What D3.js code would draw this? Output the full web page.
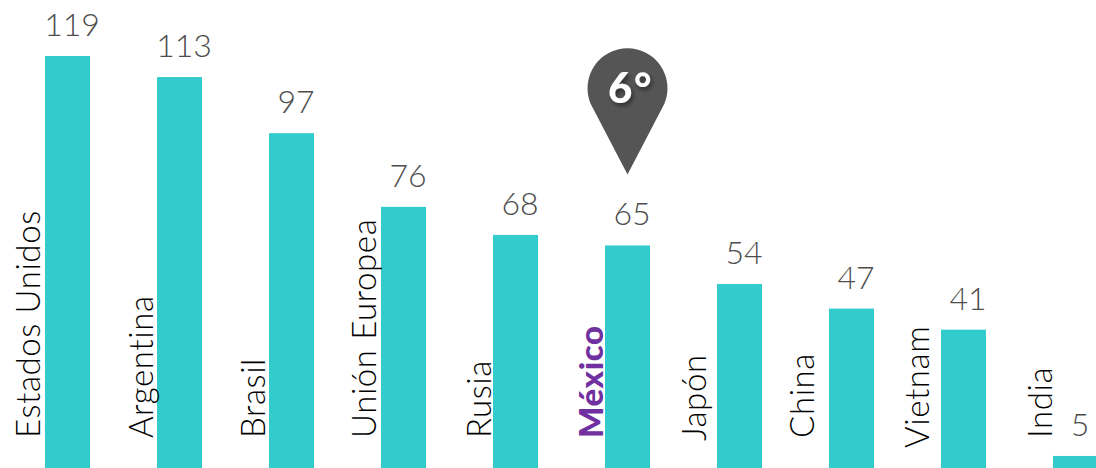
<!DOCTYPE html>
<html>
<head>
<meta charset="utf-8">
<script src="https://cdn.jsdelivr.net/npm/d3@7"></script>
<style>
  html, body { margin: 0; padding: 0; background: #fff; overflow: hidden; }
  svg { display: block; }
  text { font-family: Lato, "Open Sans", sans-serif; }
</style>
</head>
<body>
<script>
const categories = ['Estados Unidos', 'Argentina', 'Brasil', 'Unión Europea', 'Rusia', 'México', 'Japón', 'China', 'Vietnam', 'India'];
const values = [119, 113, 97, 76, 68, 65, 54, 47, 41, 5];
const highlight = 'México';
const pinLabel = '6°';

// hand placement of the rotated labels, the source has them off grid
const labelDx = [-5, -4, -4, -5, -2, -2, -11, -15, -12, -1];
const labelDy = [0, 0, 0, 0, 0, 0, 3, 0, 10, 0];

const width = 1096;
const height = 468;

const svg = d3.select('body').append('svg')
    .attr('width', width)
    .attr('height', height);

const x = d3.scaleBand()
    .domain(categories)
    .range([45, 1098])
    .paddingInner(67 / 112)
    .paddingOuter(0);

const y = d3.scaleLinear()
    .domain([0, 119])
    .range([473.5, 56]);

svg.selectAll('rect.bar')
    .data(categories)
    .enter()
    .append('rect')
    .attr('class', 'bar')
    .attr('x', d => x(d))
    .attr('y', (d, i) => y(values[i]))
    .attr('width', x.bandwidth())
    .attr('height', (d, i) => y(0) - y(values[i]))
    .attr('fill', '#33cccc');

svg.selectAll('text.value')
    .data(categories)
    .enter()
    .append('text')
    .attr('class', 'value')
    .attr('x', d => x(d) + x.bandwidth() / 2 + 4.5)
    .attr('y', (d, i) => y(values[i]) - 20)
    .attr('text-anchor', 'middle')
    .attr('font-size', 32)
    .attr('font-weight', 300)
    .attr('fill', '#4d4d4d')
    .text((d, i) => values[i]);

svg.selectAll('text.cat')
    .data(categories)
    .enter()
    .append('text')
    .attr('class', 'cat')
    .attr('transform', (d, i) => `translate(${x(d) + labelDx[i]},${438 + labelDy[i]}) rotate(-90)`)
    .attr('font-size', 33)
    .attr('letter-spacing', 0.6)
    .attr('font-weight', d => d === highlight ? 900 : 300)
    .attr('fill', d => d === highlight ? '#7030a0' : '#000')
    .text(d => d);

// pin over the highlighted bar
const pinX = x(highlight) + x.bandwidth() / 2;
const pinTip = y(values[categories.indexOf(highlight)]) - 71;

const defs = svg.append('defs');
const shadow = defs.append('filter').attr('id', 'pin-shadow');
shadow.append('feDropShadow')
    .attr('dx', 2)
    .attr('dy', 3)
    .attr('stdDeviation', 2)
    .attr('flood-color', '#000')
    .attr('flood-opacity', 0.45);

const pin = svg.append('g').attr('transform', `translate(${pinX},${pinTip})`);
pin.append('path')
    .attr('d', 'M0,0 L-37,-71 A40,40 0 1 1 37,-71 Z')
    .attr('fill', '#555555');
pin.append('text')
    .attr('x', 3)
    .attr('y', -71)
    .attr('text-anchor', 'middle')
    .attr('font-size', 42)
    .attr('letter-spacing', 1.5)
    .attr('font-weight', 900)
    .attr('fill', '#fff')
    .attr('filter', 'url(#pin-shadow)')
    .text(pinLabel);
</script>
</body>
</html>
